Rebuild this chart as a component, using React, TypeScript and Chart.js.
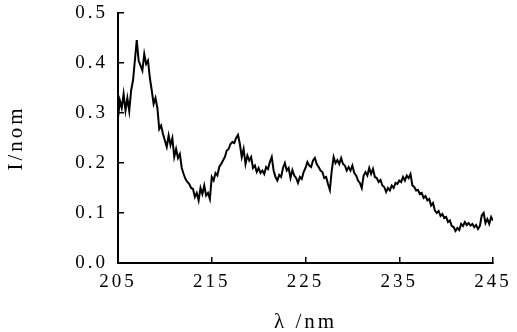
import React, { useEffect, useRef } from "react";
import { Chart, registerables } from "chart.js";

Chart.register(...registerables);

const lambdaStart = 205;
const lambdaStep = 0.2;
const xTicks = [205, 215, 225, 235, 245];
const yTicks = [0.0, 0.1, 0.2, 0.3, 0.4, 0.5];

// intensity, one value per 0.2 nm from 205 to 245 nm
const intensity = [
  0.29, 0.325, 0.31, 0.338, 0.305, 0.33, 0.304, 0.345, 0.365, 0.405,
  0.446, 0.405, 0.395, 0.385, 0.418, 0.398, 0.405, 0.37, 0.345, 0.318,
  0.33, 0.31, 0.268, 0.275, 0.258, 0.245, 0.232, 0.255, 0.236, 0.25,
  0.212, 0.228, 0.21, 0.218, 0.19, 0.178, 0.168, 0.162, 0.158, 0.15,
  0.148, 0.132, 0.14, 0.125, 0.15, 0.138, 0.155, 0.135, 0.14, 0.128,
  0.172, 0.165, 0.18, 0.175, 0.192, 0.198, 0.205, 0.212, 0.225, 0.228,
  0.238, 0.242, 0.24, 0.25, 0.256, 0.238, 0.212, 0.228, 0.198, 0.215,
  0.205, 0.212, 0.19, 0.195, 0.182, 0.19, 0.18, 0.185, 0.178, 0.192,
  0.188, 0.202, 0.212, 0.185, 0.172, 0.165, 0.176, 0.172, 0.19, 0.2,
  0.185, 0.19, 0.17, 0.186, 0.175, 0.17, 0.16, 0.172, 0.168, 0.182,
  0.19, 0.202, 0.195, 0.192, 0.205, 0.21, 0.198, 0.192, 0.185, 0.182,
  0.17, 0.172, 0.158, 0.146, 0.185, 0.212, 0.2, 0.206, 0.198, 0.21,
  0.198, 0.195, 0.185, 0.192, 0.185, 0.195, 0.18, 0.175, 0.165, 0.16,
  0.15, 0.175, 0.182, 0.175, 0.19, 0.178, 0.188, 0.172, 0.17, 0.162,
  0.166, 0.155, 0.152, 0.142, 0.15, 0.145, 0.155, 0.15, 0.16, 0.158,
  0.165, 0.162, 0.172, 0.165, 0.175, 0.17, 0.178, 0.155, 0.152, 0.145,
  0.146, 0.138, 0.14, 0.13, 0.134, 0.125, 0.128, 0.115, 0.12, 0.105,
  0.1, 0.104, 0.094, 0.098, 0.09, 0.092, 0.082, 0.085, 0.074, 0.072,
  0.064, 0.07, 0.066, 0.078, 0.074, 0.082, 0.076, 0.08, 0.075, 0.078,
  0.072, 0.076, 0.068, 0.074, 0.095, 0.1, 0.08, 0.088, 0.078, 0.092,
  0.085,
];

const FONT = "'Liberation Serif', 'Times New Roman', serif";
const SPACING = "3px";

const spacingPlugin = {
  id: "letterSpacing",
  beforeInit(chart: any) {
    (chart.ctx as any).letterSpacing = SPACING;
  },
  beforeLayout(chart: any) {
    (chart.ctx as any).letterSpacing = SPACING;
  },
  beforeDraw(chart: any) {
    (chart.ctx as any).letterSpacing = SPACING;
  },
};

export default function App() {
  const ref = useRef<HTMLCanvasElement>(null);
  useEffect(() => {
    if (!ref.current) return;
    const points = intensity.map((v, i) => ({
      x: +(lambdaStart + i * lambdaStep).toFixed(2),
      y: v,
    }));
    const chart = new Chart(ref.current, {
      type: "line",
      data: {
        datasets: [
          {
            data: points,
            borderColor: "#000",
            borderWidth: 2,
            pointRadius: 0,
            tension: 0,
            fill: false,
          },
        ],
      },
      plugins: [spacingPlugin],
      options: {
        animation: false,
        responsive: true,
        maintainAspectRatio: false,
        devicePixelRatio: 1,
        layout: { padding: { top: 13, right: 24, left: 0, bottom: 0 } },
        plugins: { legend: { display: false }, tooltip: { enabled: false } },
        scales: {
          x: {
            type: "linear",
            min: 205,
            max: 245,
            afterBuildTicks: (s: any) => {
              s.ticks = xTicks.map((v) => ({ value: v }));
            },
            afterFit: (s: any) => {
              s.height = 69;
              s.paddingLeft = 0;
              s.paddingRight = 0;
              s.paddingTop = 0;
              s.paddingBottom = 0;
            },
            ticks: {
              color: "#000",
              font: { family: FONT, size: 19 },
              padding: 14,
              maxRotation: 0,
              autoSkip: false,
            },
            grid: {
              drawOnChartArea: false,
              drawTicks: true,
              tickLength: -6,
              color: "#000",
              lineWidth: 1.5,
            },
            border: { display: true, color: "#000", width: 2 },
            title: {
              display: true,
              text: "λ /nm",
              color: "#000",
              font: { family: FONT, size: 21 },
              padding: { top: 0, bottom: -3 },
            },
          },
          y: {
            min: 0,
            max: 0.5,
            afterBuildTicks: (s: any) => {
              s.ticks = yTicks.map((v) => ({ value: v }));
            },
            afterFit: (s: any) => {
              s.width = 118;
              s.paddingLeft = 0;
              s.paddingRight = 0;
              s.paddingTop = 0;
              s.paddingBottom = 0;
            },
            ticks: {
              color: "#000",
              font: { family: FONT, size: 19 },
              padding: 16,
              callback: (v: any) => Number(v).toFixed(1),
            },
            grid: {
              drawOnChartArea: false,
              drawTicks: true,
              tickLength: -6,
              color: "#000",
              lineWidth: 1.5,
            },
            border: { display: true, color: "#000", width: 2 },
            title: {
              display: true,
              text: "I/nom",
              color: "#000",
              font: { family: FONT, size: 21 },
              padding: { top: 4, bottom: 0 },
            },
          },
        },
      },
    });
    return () => chart.destroy();
  }, []);
  return (
    <div style={{ position: "absolute", left: 0, top: 0, width: 517, height: 332, background: "#fff" }}>
      <canvas ref={ref} style={{ display: "block" }} />
    </div>
  );
}
